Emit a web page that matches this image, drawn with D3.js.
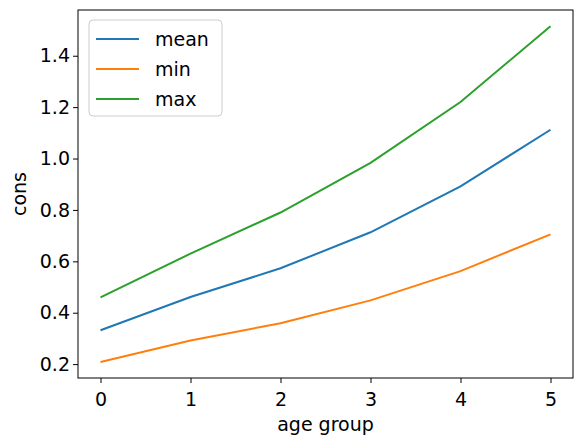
<!DOCTYPE html>
<html><head><meta charset="utf-8">
<script src="https://d3js.org/d3.v7.min.js"></script>
<style>body{margin:0;background:#fff}text{font-family:"DejaVu Sans",sans-serif}</style>
</head><body>
<svg id="c" width="584" height="444"></svg>
<script>
const ages = [0,1,2,3,4,5];
const meanVals = [0.332,0.461,0.573,0.713,0.892,1.112];
const minVals = [0.208,0.292,0.359,0.448,0.562,0.705];
const maxVals = [0.460,0.630,0.790,0.983,1.220,1.515];
const yTicks = [0.2,0.4,0.6,0.8,1.0,1.2,1.4];
const series = [
  {name:"mean", values:meanVals, color:"#1f77b4"},
  {name:"min", values:minVals, color:"#ff7f0e"},
  {name:"max", values:maxVals, color:"#2ca02c"}
];
const L=78,R=573,T=10,B=378;
const svg=d3.select("#c");
const x=d3.scaleLinear().domain([-0.25,5.25]).range([L,R]);
const y=d3.scaleLinear().domain([0.146,1.578]).range([B,T]);
const xa=svg.append("g").attr("transform",`translate(0,${B})`).call(d3.axisBottom(x).tickValues(ages).tickFormat(d3.format("d")).tickSize(5).tickSizeOuter(0));
const ya=svg.append("g").attr("transform",`translate(${L},0)`).call(d3.axisLeft(y).tickValues(yTicks).tickFormat(d3.format(".1f")).tickSize(5).tickSizeOuter(0));
[xa,ya].forEach(a=>{a.attr("font-size",null).attr("font-family",null);a.select(".domain").remove();a.selectAll("text").style("font-size","19px").attr("fill","#000");a.selectAll("line").attr("stroke","#000");});
xa.selectAll("text").attr("dy","1.05em");
ya.selectAll("text").attr("x",-8);
svg.append("rect").attr("x",L).attr("y",T).attr("width",R-L).attr("height",B-T).attr("fill","none").attr("stroke","#000").attr("stroke-width",1);
const line=d3.line().x((d,i)=>x(ages[i])).y(d=>y(d));
series.forEach(s=>svg.append("path").attr("d",line(s.values)).attr("fill","none").attr("stroke",s.color).attr("stroke-width",2));
svg.append("text").attr("x",(L+R)/2).attr("y",431).attr("text-anchor","middle").style("font-size","19px").text("age group");
svg.append("text").attr("transform",`translate(26,${(T+B)/2}) rotate(-90)`).attr("text-anchor","middle").style("font-size","19px").text("cons");
const lg=svg.append("g");
lg.append("rect").attr("x",89).attr("y",20).attr("width",133).attr("height",96).attr("rx",4).attr("fill","#fff").attr("stroke","#ccc");
series.forEach((s,i)=>{
  const yy=39+i*30;
  lg.append("line").attr("x1",96).attr("x2",139).attr("y1",yy).attr("y2",yy).attr("stroke",s.color).attr("stroke-width",2);
  lg.append("text").attr("x",155).attr("y",yy+7).style("font-size","19px").text(s.name);
});
</script>
</body></html>
